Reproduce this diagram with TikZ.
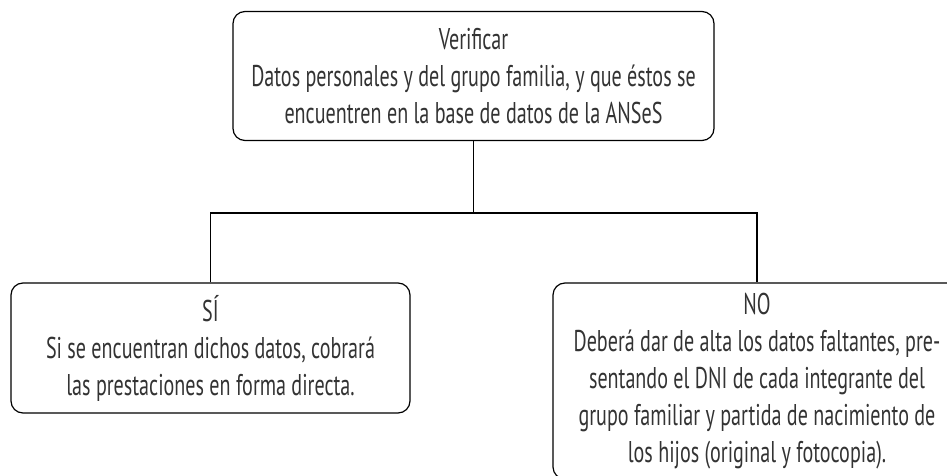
\documentclass[tikz,border=0pt]{standalone}
\usepackage{fontspec}
\setmainfont{PT Sans}[FakeStretch=0.67]

\begin{document}
\begin{tikzpicture}[x=1pt,y=-1pt,
  caja/.style={draw,rounded corners=12pt,line width=1.2pt,align=center,
    text=black!80,inner sep=0pt,font=\fontsize{30}{37}\selectfont},
  linea/.style={line width=1.2pt}]

\useasboundingbox (0,0) rectangle (947,476);

\node [caja,minimum width=481,minimum height=129] at (473.5,76) (verif)
  {Verificar\\Datos personales y del grupo familia, y que éstos se\\encuentren en la base de datos de la ANSeS};
\node [caja,minimum width=399,minimum height=130] at (210.5,348) (si)
  {SÍ\\Si se encuentran dichos datos, cobrará\\las prestaciones en forma directa.};
\node [caja,minimum width=408,minimum height=196] at (757,381) (no)
  {NO\\Deberá dar de alta los datos faltantes, pre-\\sentando el DNI de cada integrante del\\grupo familiar y partida de nacimiento de\\los hijos (original y fotocopia).};

\coordinate (bar) at (verif.south |- 0,213);

\draw [linea] (verif.south) -- (bar);
\draw [linea] (si.north) |- (bar) -| (no.north);

\end{tikzpicture}
\end{document}
